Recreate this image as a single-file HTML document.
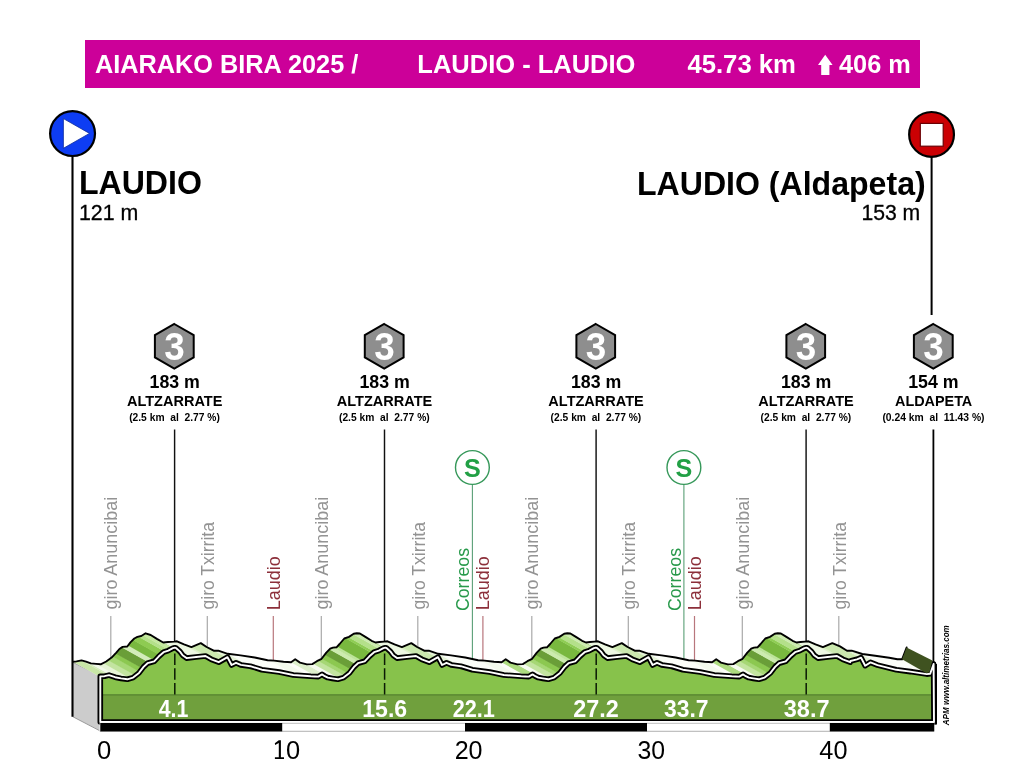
<!DOCTYPE html>
<html><head><meta charset="utf-8"><title>Aiarako Bira 2025</title>
<style>html,body{margin:0;padding:0;background:#fff}svg{display:block;will-change:transform;transform:translateZ(0)}text{font-family:"Liberation Sans",sans-serif}</style></head>
<body>
<svg width="1024" height="784" viewBox="0 0 1024 784">
<rect width="1024" height="784" fill="#fff"/>
<rect x="85" y="40" width="835" height="48" fill="#cc0099"/>
<text transform="translate(94.99 73.20) scale(0.9733 1)" font-size="26.00" font-weight="700" fill="#fff" xml:space="preserve">AIARAKO BIRA 2025 /</text>
<text transform="translate(417.32 73.20) scale(0.9808 1)" font-size="26.00" font-weight="700" fill="#fff" xml:space="preserve">LAUDIO - LAUDIO</text>
<text transform="translate(687.41 73.20) scale(0.9882 1)" font-size="26.00" font-weight="700" fill="#fff" xml:space="preserve">45.73 km</text>
<text transform="translate(839.02 73.20) scale(0.9730 1)" font-size="26.00" font-weight="700" fill="#fff" xml:space="preserve">406 m</text>
<path d="M825.2 54.7 L832.6 65 L829.4 65 L829.4 75 L821.2 75 L821.2 65 L818 65 Z" fill="#fff"/>
<circle cx="72.55" cy="133.55" r="22.45" fill="#0e3df3" stroke="#000" stroke-width="2.2"/>
<path d="M63.4 118.6 L89.5 133.4 L63.4 148.3 Z" fill="#fff" stroke="#0a2a9a" stroke-width="0.8"/>
<line x1="931.6" y1="150" x2="931.6" y2="315" stroke="#000" stroke-width="2"/>
<circle cx="931.55" cy="134.4" r="22.4" fill="#cb0003" stroke="#000" stroke-width="2.2"/>
<rect x="920.3" y="123.4" width="22.9" height="22.8" fill="#fff" stroke="#6a0004" stroke-width="1.2"/>
<text transform="translate(78.88 193.90) scale(0.9910 1)" font-size="32.40" font-weight="700" fill="#000" xml:space="preserve">LAUDIO</text>
<text transform="translate(78.98 220.20) scale(0.9852 1)" font-size="21.70" fill="#000" stroke="#000" stroke-width="0.30" xml:space="preserve">121 m</text>
<text transform="translate(636.98 195.00) scale(0.9846 1)" font-size="32.60" font-weight="700" fill="#000" xml:space="preserve">LAUDIO (Aldapeta)</text>
<text transform="translate(861.39 219.60) scale(0.9765 1)" font-size="21.70" fill="#000" stroke="#000" stroke-width="0.30" xml:space="preserve">153 m</text>
<text transform="translate(117.40 609.55) rotate(-90) scale(0.9862 1)" font-size="18.20" fill="#939393" xml:space="preserve">giro Anuncibai</text>
<line x1="110.8" y1="616.0" x2="110.8" y2="657.7" stroke="#a9a9a9" stroke-width="1.2"/>
<text transform="translate(214.40 609.54) rotate(-90) scale(0.9663 1)" font-size="18.20" fill="#939393" xml:space="preserve">giro Txirrita</text>
<line x1="207.3" y1="616.0" x2="207.3" y2="646.9" stroke="#a9a9a9" stroke-width="1.2"/>
<text transform="translate(327.90 609.55) rotate(-90) scale(0.9862 1)" font-size="18.20" fill="#939393" xml:space="preserve">giro Anuncibai</text>
<line x1="321.3" y1="616.0" x2="321.3" y2="658.5" stroke="#a9a9a9" stroke-width="1.2"/>
<text transform="translate(424.90 609.54) rotate(-90) scale(0.9663 1)" font-size="18.20" fill="#939393" xml:space="preserve">giro Txirrita</text>
<line x1="417.8" y1="616.0" x2="417.8" y2="646.9" stroke="#a9a9a9" stroke-width="1.2"/>
<text transform="translate(538.40 609.55) rotate(-90) scale(0.9862 1)" font-size="18.20" fill="#939393" xml:space="preserve">giro Anuncibai</text>
<line x1="531.8" y1="616.0" x2="531.8" y2="658.5" stroke="#a9a9a9" stroke-width="1.2"/>
<text transform="translate(635.40 609.54) rotate(-90) scale(0.9663 1)" font-size="18.20" fill="#939393" xml:space="preserve">giro Txirrita</text>
<line x1="628.3" y1="616.0" x2="628.3" y2="646.9" stroke="#a9a9a9" stroke-width="1.2"/>
<text transform="translate(748.90 609.55) rotate(-90) scale(0.9862 1)" font-size="18.20" fill="#939393" xml:space="preserve">giro Anuncibai</text>
<line x1="742.3" y1="616.0" x2="742.3" y2="658.5" stroke="#a9a9a9" stroke-width="1.2"/>
<text transform="translate(845.90 609.54) rotate(-90) scale(0.9663 1)" font-size="18.20" fill="#939393" xml:space="preserve">giro Txirrita</text>
<line x1="838.8" y1="616.0" x2="838.8" y2="645.4" stroke="#a9a9a9" stroke-width="1.2"/>
<text transform="translate(279.80 610.17) rotate(-90) scale(0.9863 1)" font-size="18.20" fill="#8c2f3a" xml:space="preserve">Laudio</text>
<line x1="273.3" y1="616.0" x2="273.3" y2="660.1" stroke="#b8767c" stroke-width="1.2"/>
<text transform="translate(489.40 610.17) rotate(-90) scale(0.9863 1)" font-size="18.20" fill="#8c2f3a" xml:space="preserve">Laudio</text>
<line x1="482.9" y1="616.0" x2="482.9" y2="660.0" stroke="#b8767c" stroke-width="1.2"/>
<text transform="translate(701.00 610.17) rotate(-90) scale(0.9863 1)" font-size="18.20" fill="#8c2f3a" xml:space="preserve">Laudio</text>
<line x1="694.5" y1="616.0" x2="694.5" y2="660.1" stroke="#b8767c" stroke-width="1.2"/>
<text transform="translate(469.00 611.09) rotate(-90) scale(0.9751 1)" font-size="18.20" fill="#27994a" xml:space="preserve">Correos</text>
<line x1="472.4" y1="484.5" x2="472.4" y2="658.5" stroke="#5a9f76" stroke-width="1.1"/>
<circle cx="472.4" cy="467.5" r="16.9" fill="#fff" stroke="#36985a" stroke-width="1.4"/>
<text transform="translate(464.10 476.60) scale(0.9497 1)" font-size="26.50" font-weight="700" fill="#22a045" xml:space="preserve">S</text>
<text transform="translate(680.50 611.09) rotate(-90) scale(0.9751 1)" font-size="18.20" fill="#27994a" xml:space="preserve">Correos</text>
<line x1="683.9" y1="484.5" x2="683.9" y2="658.7" stroke="#5a9f76" stroke-width="1.1"/>
<circle cx="683.9" cy="467.5" r="16.9" fill="#fff" stroke="#36985a" stroke-width="1.4"/>
<text transform="translate(675.60 476.60) scale(0.9497 1)" font-size="26.50" font-weight="700" fill="#22a045" xml:space="preserve">S</text>
<polygon points="174.3,324.0 193.7,335.2 193.7,357.4 174.3,368.6 154.9,357.4 154.9,335.2" fill="#8e8e8e" stroke="#000" stroke-width="2" stroke-linejoin="miter"/>
<text transform="translate(164.29 360.00) scale(0.9553 1)" font-size="38.60" font-weight="700" fill="#fff" xml:space="preserve">3</text>
<text transform="translate(149.55 387.90) scale(0.9985 1)" font-size="17.80" font-weight="700" fill="#000" xml:space="preserve">183 m</text>
<text transform="translate(126.90 406.20) scale(1.0162 1)" font-size="14.30" font-weight="700" fill="#000" xml:space="preserve">ALTZARRATE</text>
<text transform="translate(129.15 421.20) scale(0.8707 1)" font-size="11.80" font-weight="700" fill="#000" xml:space="preserve">(2.5 km  al  2.77 %)</text>
<polygon points="384.2,324.0 403.6,335.2 403.6,357.4 384.2,368.6 364.8,357.4 364.8,335.2" fill="#8e8e8e" stroke="#000" stroke-width="2" stroke-linejoin="miter"/>
<text transform="translate(374.14 360.00) scale(0.9553 1)" font-size="38.60" font-weight="700" fill="#fff" xml:space="preserve">3</text>
<text transform="translate(359.40 387.90) scale(0.9985 1)" font-size="17.80" font-weight="700" fill="#000" xml:space="preserve">183 m</text>
<text transform="translate(336.75 406.20) scale(1.0162 1)" font-size="14.30" font-weight="700" fill="#000" xml:space="preserve">ALTZARRATE</text>
<text transform="translate(339.00 421.20) scale(0.8707 1)" font-size="11.80" font-weight="700" fill="#000" xml:space="preserve">(2.5 km  al  2.77 %)</text>
<polygon points="595.8,324.0 615.1,335.2 615.1,357.4 595.8,368.6 576.4,357.4 576.4,335.2" fill="#8e8e8e" stroke="#000" stroke-width="2" stroke-linejoin="miter"/>
<text transform="translate(585.74 360.00) scale(0.9553 1)" font-size="38.60" font-weight="700" fill="#fff" xml:space="preserve">3</text>
<text transform="translate(571.00 387.90) scale(0.9985 1)" font-size="17.80" font-weight="700" fill="#000" xml:space="preserve">183 m</text>
<text transform="translate(548.35 406.20) scale(1.0162 1)" font-size="14.30" font-weight="700" fill="#000" xml:space="preserve">ALTZARRATE</text>
<text transform="translate(550.60 421.20) scale(0.8707 1)" font-size="11.80" font-weight="700" fill="#000" xml:space="preserve">(2.5 km  al  2.77 %)</text>
<polygon points="805.8,324.0 825.1,335.2 825.1,357.4 805.8,368.6 786.4,357.4 786.4,335.2" fill="#8e8e8e" stroke="#000" stroke-width="2" stroke-linejoin="miter"/>
<text transform="translate(795.74 360.00) scale(0.9553 1)" font-size="38.60" font-weight="700" fill="#fff" xml:space="preserve">3</text>
<text transform="translate(781.00 387.90) scale(0.9985 1)" font-size="17.80" font-weight="700" fill="#000" xml:space="preserve">183 m</text>
<text transform="translate(758.35 406.20) scale(1.0162 1)" font-size="14.30" font-weight="700" fill="#000" xml:space="preserve">ALTZARRATE</text>
<text transform="translate(760.60 421.20) scale(0.8707 1)" font-size="11.80" font-weight="700" fill="#000" xml:space="preserve">(2.5 km  al  2.77 %)</text>
<polygon points="933.3,324.0 952.7,335.2 952.7,357.4 933.3,368.6 913.9,357.4 913.9,335.2" fill="#8e8e8e" stroke="#000" stroke-width="2" stroke-linejoin="miter"/>
<text transform="translate(923.29 360.00) scale(0.9553 1)" font-size="38.60" font-weight="700" fill="#fff" xml:space="preserve">3</text>
<text transform="translate(908.20 387.90) scale(0.9985 1)" font-size="17.80" font-weight="700" fill="#000" xml:space="preserve">154 m</text>
<text transform="translate(895.05 406.20) scale(1.0069 1)" font-size="14.30" font-weight="700" fill="#000" xml:space="preserve">ALDAPETA</text>
<text transform="translate(882.39 421.20) scale(0.8763 1)" font-size="11.80" font-weight="700" fill="#000" xml:space="preserve">(0.24 km  al  11.43 %)</text>
<line x1="174.6" y1="429.5" x2="174.6" y2="647.7" stroke="#111" stroke-width="1.45"/>
<line x1="384.5" y1="429.5" x2="384.5" y2="647.9" stroke="#111" stroke-width="1.45"/>
<line x1="596.1" y1="429.5" x2="596.1" y2="647.8" stroke="#111" stroke-width="1.45"/>
<line x1="806.1" y1="429.5" x2="806.1" y2="647.7" stroke="#111" stroke-width="1.45"/>
<line x1="933.4" y1="429.5" x2="933.4" y2="662.5" stroke="#000" stroke-width="1.8"/>
<polygon points="72.6,662.2 99.3,675.4 99.3,730.3 72.6,716.4" fill="#cccccc"/>
<path d="M72.6 662.2 L99.3 675.4 M72.6 716.6 L99.3 730.5" fill="none" stroke="#8f8f8f" stroke-width="0.9"/>
<line x1="72.5" y1="156.5" x2="72.5" y2="716.8" stroke="#000" stroke-width="2.1"/>
<polygon points="73.0,661.8 76.5,661.4 81.5,660.4 86.0,661.6 90.9,663.4 96.0,663.9 100.7,664.3 106.2,661.5 111.6,657.6 116.3,652.6 119.4,649.0 122.6,646.9 127.3,646.5 130.4,642.4 134.3,638.5 137.4,636.9 141.3,636.0 145.6,633.3 150.7,635.0 156.9,638.9 163.2,642.5 168.0,642.0 174.1,641.6 177.0,641.3 184.0,644.4 191.4,647.1 200.8,643.1 206.6,647.0 213.7,650.7 218.3,650.7 227.7,653.8 240.6,655.4 254.7,657.5 267.6,660.2 274.0,660.6 283.5,661.8 287.5,662.0 291.1,662.3 295.2,659.3 300.0,662.6 306.8,664.4 312.3,664.1 316.9,661.2 321.6,658.8 326.3,652.6 330.2,648.7 333.0,647.6 336.5,647.3 339.6,644.0 344.3,638.5 349.0,636.9 353.7,633.8 356.8,633.3 359.9,633.5 365.4,636.9 371.6,640.8 375.5,642.5 379.5,642.0 384.1,641.6 387.5,641.3 394.5,644.4 401.9,647.1 411.3,643.1 417.1,647.0 424.2,650.7 428.8,650.7 438.2,653.8 451.1,655.4 465.2,657.5 478.1,660.2 484.5,660.6 494.0,661.8 498.0,662.0 501.6,662.3 505.7,659.3 510.5,662.6 517.3,664.4 522.8,664.1 527.4,661.2 532.1,658.8 536.8,652.6 540.7,648.7 543.5,647.6 547.0,647.3 550.1,644.0 554.8,638.5 559.5,636.9 564.2,633.8 567.3,633.3 570.4,633.5 575.9,636.9 582.1,640.8 586.0,642.5 590.0,642.0 594.6,641.6 598.0,641.3 605.0,644.4 612.4,647.1 621.8,643.1 627.6,647.0 634.7,650.7 639.3,650.7 648.7,653.8 661.6,655.4 675.7,657.5 688.6,660.2 695.0,660.6 704.5,661.8 708.5,662.0 712.1,662.3 716.2,659.3 721.0,662.6 727.8,664.4 733.3,664.1 737.9,661.2 742.6,658.8 747.3,652.6 751.2,648.7 754.0,647.6 757.5,647.3 760.6,644.0 765.3,638.5 770.0,636.9 774.7,633.8 777.8,633.3 780.9,633.5 786.4,636.9 792.6,640.8 796.5,642.5 800.5,642.0 805.1,641.6 808.5,641.3 815.5,644.4 822.9,647.1 832.3,643.1 840.0,646.4 847.0,650.7 851.7,650.7 862.3,654.0 875.2,655.7 889.2,657.7 897.4,659.3 902.1,659.3 929.4,674.6 924.7,674.6 916.5,673.0 902.5,671.0 889.6,669.3 879.0,666.0 874.3,666.0 867.3,661.7 859.6,658.4 850.2,662.4 842.8,659.7 835.8,656.6 832.4,656.9 827.8,657.3 823.8,657.8 819.9,656.1 813.7,652.2 808.2,648.8 805.1,648.6 802.0,649.1 797.3,652.2 792.6,653.8 787.9,659.3 784.8,662.6 781.3,662.9 778.5,664.0 774.6,667.9 769.9,674.1 765.2,676.5 760.6,679.4 755.1,679.7 748.3,677.9 743.5,674.6 739.4,677.6 735.8,677.3 731.8,677.1 722.3,675.9 715.9,675.5 703.0,672.8 688.9,670.7 676.0,669.1 666.6,666.0 662.0,666.0 654.9,662.3 649.1,658.4 639.7,662.4 632.3,659.7 625.3,656.6 621.9,656.9 617.3,657.3 613.3,657.8 609.4,656.1 603.2,652.2 597.7,648.8 594.6,648.6 591.5,649.1 586.8,652.2 582.1,653.8 577.4,659.3 574.3,662.6 570.8,662.9 568.0,664.0 564.1,667.9 559.4,674.1 554.7,676.5 550.1,679.4 544.6,679.7 537.8,677.9 533.0,674.6 528.9,677.6 525.3,677.3 521.3,677.1 511.8,675.9 505.4,675.5 492.5,672.8 478.4,670.7 465.5,669.1 456.1,666.0 451.5,666.0 444.4,662.3 438.6,658.4 429.2,662.4 421.8,659.7 414.8,656.6 411.4,656.9 406.8,657.3 402.8,657.8 398.9,656.1 392.7,652.2 387.2,648.8 384.1,648.6 381.0,649.1 376.3,652.2 371.6,653.8 366.9,659.3 363.8,662.6 360.3,662.9 357.5,664.0 353.6,667.9 348.9,674.1 344.2,676.5 339.6,679.4 334.1,679.7 327.3,677.9 322.5,674.6 318.4,677.6 314.8,677.3 310.8,677.1 301.3,675.9 294.9,675.5 282.0,672.8 267.9,670.7 255.0,669.1 245.6,666.0 241.0,666.0 233.9,662.3 228.1,658.4 218.7,662.4 211.3,659.7 204.3,656.6 201.4,656.9 195.3,657.3 190.5,657.8 184.2,654.2 178.0,650.3 172.9,648.6 168.6,651.3 164.7,652.2 161.6,653.8 157.7,657.7 154.6,661.8 149.9,662.2 146.7,664.3 143.6,667.9 138.9,672.9 133.5,676.8 128.0,679.6 123.3,679.2 118.2,678.7 113.3,676.9 108.8,675.7 103.8,676.7 100.3,677.1" fill="#fbfdf8"/>
<polygon points="73.0,661.8 76.5,661.4 81.5,660.4 81.8,660.5 109.1,675.8 108.8,675.7 103.8,676.7 100.3,677.1" fill="#c8e6a6"/>
<polygon points="81.5,660.4 86.0,661.6 88.3,662.4 115.6,677.7 113.3,676.9 108.8,675.7" fill="#d6edbc"/>
<polygon points="88.0,662.3 90.9,663.4 96.0,663.9 96.3,663.9 123.6,679.2 123.3,679.2 118.2,678.7 115.3,677.6" fill="#f2f9ea"/>
<polygon points="96.0,663.9 100.7,664.3 103.3,663.0 130.6,678.3 128.0,679.6 123.3,679.2" fill="#e6f4d6"/>
<polygon points="103.0,663.1 106.2,661.5 108.3,660.0 135.6,675.3 133.5,676.8 130.3,678.4" fill="#c3e4a0"/>
<polygon points="108.0,660.2 111.6,657.6 112.8,656.3 140.1,671.6 138.9,672.9 135.3,675.5" fill="#a6d775"/>
<polygon points="112.5,656.6 115.8,653.1 143.1,668.4 139.8,671.9" fill="#8cc850"/>
<polygon points="115.5,653.5 116.3,652.6 119.4,649.0 122.1,647.2 149.4,662.5 146.7,664.3 143.6,667.9 142.8,668.8" fill="#6a9e38"/>
<polygon points="121.8,647.4 122.6,646.9 127.3,646.5 128.3,645.2 155.6,660.5 154.6,661.8 149.9,662.2 149.1,662.7" fill="#d3ecba"/>
<polygon points="128.0,645.6 130.4,642.4 133.0,639.8 160.3,655.1 157.7,657.7 155.3,660.9" fill="#79b83f"/>
<polygon points="132.7,640.1 134.3,638.5 137.4,636.9 138.5,636.6 165.8,651.9 164.7,652.2 161.6,653.8 160.0,655.4" fill="#8ecb52"/>
<polygon points="138.2,636.7 141.3,636.0 142.8,635.1 170.1,650.4 168.6,651.3 165.5,652.0" fill="#b4e08a"/>
<polygon points="142.5,635.2 145.6,633.3 146.8,633.7 174.1,649.0 172.9,648.6 169.8,650.5" fill="#c5e8a0"/>
<polygon points="146.5,633.6 150.7,635.0 156.9,638.9 163.2,642.5 163.8,642.4 191.1,657.7 190.5,657.8 184.2,654.2 178.0,650.3 173.8,648.9" fill="#a3d672"/>
<polygon points="163.5,642.5 168.0,642.0 174.1,641.6 177.0,641.3 179.3,642.3 206.6,657.6 204.3,656.6 201.4,656.9 195.3,657.3 190.8,657.8" fill="#edf7e2"/>
<polygon points="179.0,642.2 184.0,644.4 190.6,646.8 217.9,662.1 211.3,659.7 206.3,657.5" fill="#ddf0c8"/>
<polygon points="190.3,646.7 191.4,647.1 200.8,643.1 201.1,643.3 228.4,658.6 228.1,658.4 218.7,662.4 217.6,662.0" fill="#cbe8ae"/>
<polygon points="200.8,643.1 206.6,647.0 213.7,650.7 214.0,650.7 241.3,666.0 241.0,666.0 233.9,662.3 228.1,658.4" fill="#c2e3a0"/>
<polygon points="213.7,650.7 218.3,650.7 227.7,653.8 228.0,653.8 255.3,669.1 255.0,669.1 245.6,666.0 241.0,666.0" fill="#e4f2d6"/>
<polygon points="227.7,653.8 240.6,655.4 254.7,657.5 267.6,660.2 269.3,660.3 296.6,675.6 294.9,675.5 282.0,672.8 267.9,670.7 255.0,669.1" fill="#fbfdf8"/>
<polygon points="269.0,660.3 274.0,660.6 283.5,661.8 283.8,661.8 311.1,677.1 310.8,677.1 301.3,675.9 296.3,675.6" fill="#f3f9ec"/>
<polygon points="283.5,661.8 287.5,662.0 291.1,662.3 291.2,662.2 318.5,677.5 318.4,677.6 314.8,677.3 310.8,677.1" fill="#fbfdf8"/>
<polygon points="290.9,662.3 291.1,662.3 295.2,659.3 300.0,662.6 306.3,664.3 333.6,679.6 327.3,677.9 322.5,674.6 318.4,677.6 318.2,677.6" fill="#ddefcb"/>
<polygon points="306.0,664.2 306.8,664.4 312.3,664.1 313.3,663.5 340.6,678.8 339.6,679.4 334.1,679.7 333.3,679.5" fill="#f6fbf0"/>
<polygon points="313.0,663.7 316.9,661.2 318.0,660.6 345.3,675.9 344.2,676.5 340.3,679.0" fill="#c3e4a0"/>
<polygon points="317.7,660.8 321.6,658.8 321.9,658.4 349.2,673.7 348.9,674.1 345.0,676.1" fill="#a6d775"/>
<polygon points="321.6,658.8 325.0,654.3 352.3,669.6 348.9,674.1" fill="#8cc850"/>
<polygon points="324.7,654.7 326.3,652.6 329.7,649.2 357.0,664.5 353.6,667.9 352.0,670.0" fill="#6a9e38"/>
<polygon points="329.4,649.5 330.2,648.7 333.0,647.6 333.8,647.5 361.1,662.8 360.3,662.9 357.5,664.0 356.7,664.8" fill="#cdebb0"/>
<polygon points="333.5,647.6 336.5,647.3 337.5,646.2 364.8,661.5 363.8,662.6 360.8,662.9" fill="#bde49a"/>
<polygon points="337.2,646.6 339.6,644.0 344.3,638.5 345.4,638.1 372.7,653.4 371.6,653.8 366.9,659.3 364.5,661.9" fill="#79b83f"/>
<polygon points="345.1,638.2 348.5,637.1 375.8,652.4 372.4,653.5" fill="#8fcd55"/>
<polygon points="348.2,637.2 349.0,636.9 353.2,634.1 380.5,649.4 376.3,652.2 375.5,652.5" fill="#b4e08a"/>
<polygon points="352.9,634.3 353.7,633.8 356.8,633.3 357.3,633.3 384.6,648.6 384.1,648.6 381.0,649.1 380.2,649.6" fill="#cdebb0"/>
<polygon points="357.0,633.3 359.9,633.5 365.4,636.9 371.6,640.8 374.3,642.0 401.6,657.3 398.9,656.1 392.7,652.2 387.2,648.8 384.3,648.6" fill="#a3d672"/>
<polygon points="374.0,641.8 375.5,642.5 379.5,642.0 384.1,641.6 387.5,641.3 389.8,642.3 417.1,657.6 414.8,656.6 411.4,656.9 406.8,657.3 402.8,657.8 401.3,657.1" fill="#edf7e2"/>
<polygon points="389.5,642.2 394.5,644.4 401.1,646.8 428.4,662.1 421.8,659.7 416.8,657.5" fill="#ddf0c8"/>
<polygon points="400.8,646.7 401.9,647.1 411.3,643.1 411.6,643.3 438.9,658.6 438.6,658.4 429.2,662.4 428.1,662.0" fill="#cbe8ae"/>
<polygon points="411.3,643.1 417.1,647.0 424.2,650.7 424.5,650.7 451.8,666.0 451.5,666.0 444.4,662.3 438.6,658.4" fill="#c2e3a0"/>
<polygon points="424.2,650.7 428.8,650.7 438.2,653.8 438.5,653.8 465.8,669.1 465.5,669.1 456.1,666.0 451.5,666.0" fill="#e4f2d6"/>
<polygon points="438.2,653.8 451.1,655.4 465.2,657.5 478.1,660.2 479.8,660.3 507.1,675.6 505.4,675.5 492.5,672.8 478.4,670.7 465.5,669.1" fill="#fbfdf8"/>
<polygon points="479.5,660.3 484.5,660.6 494.0,661.8 494.3,661.8 521.6,677.1 521.3,677.1 511.8,675.9 506.8,675.6" fill="#f3f9ec"/>
<polygon points="494.0,661.8 498.0,662.0 501.6,662.3 501.7,662.2 529.0,677.5 528.9,677.6 525.3,677.3 521.3,677.1" fill="#fbfdf8"/>
<polygon points="501.4,662.3 501.6,662.3 505.7,659.3 510.5,662.6 516.8,664.3 544.1,679.6 537.8,677.9 533.0,674.6 528.9,677.6 528.7,677.6" fill="#addb80"/>
<polygon points="516.5,664.2 517.3,664.4 522.8,664.1 523.8,663.5 551.1,678.8 550.1,679.4 544.6,679.7 543.8,679.5" fill="#f6fbf0"/>
<polygon points="523.5,663.7 527.4,661.2 528.5,660.6 555.8,675.9 554.7,676.5 550.8,679.0" fill="#c3e4a0"/>
<polygon points="528.2,660.8 532.1,658.8 532.4,658.4 559.7,673.7 559.4,674.1 555.5,676.1" fill="#a6d775"/>
<polygon points="532.1,658.8 535.5,654.3 562.8,669.6 559.4,674.1" fill="#8cc850"/>
<polygon points="535.2,654.7 536.8,652.6 540.2,649.2 567.5,664.5 564.1,667.9 562.5,670.0" fill="#6a9e38"/>
<polygon points="539.9,649.5 540.7,648.7 543.5,647.6 544.3,647.5 571.6,662.8 570.8,662.9 568.0,664.0 567.2,664.8" fill="#cdebb0"/>
<polygon points="544.0,647.6 547.0,647.3 548.0,646.2 575.3,661.5 574.3,662.6 571.3,662.9" fill="#bde49a"/>
<polygon points="547.7,646.6 550.1,644.0 554.8,638.5 555.9,638.1 583.2,653.4 582.1,653.8 577.4,659.3 575.0,661.9" fill="#79b83f"/>
<polygon points="555.6,638.2 559.0,637.1 586.3,652.4 582.9,653.5" fill="#8fcd55"/>
<polygon points="558.7,637.2 559.5,636.9 563.7,634.1 591.0,649.4 586.8,652.2 586.0,652.5" fill="#b4e08a"/>
<polygon points="563.4,634.3 564.2,633.8 567.3,633.3 567.8,633.3 595.1,648.6 594.6,648.6 591.5,649.1 590.7,649.6" fill="#cdebb0"/>
<polygon points="567.5,633.3 570.4,633.5 575.9,636.9 582.1,640.8 584.8,642.0 612.1,657.3 609.4,656.1 603.2,652.2 597.7,648.8 594.8,648.6" fill="#a3d672"/>
<polygon points="584.5,641.8 586.0,642.5 590.0,642.0 594.6,641.6 598.0,641.3 600.3,642.3 627.6,657.6 625.3,656.6 621.9,656.9 617.3,657.3 613.3,657.8 611.8,657.1" fill="#edf7e2"/>
<polygon points="600.0,642.2 605.0,644.4 611.6,646.8 638.9,662.1 632.3,659.7 627.3,657.5" fill="#ddf0c8"/>
<polygon points="611.3,646.7 612.4,647.1 621.8,643.1 622.1,643.3 649.4,658.6 649.1,658.4 639.7,662.4 638.6,662.0" fill="#cbe8ae"/>
<polygon points="621.8,643.1 627.6,647.0 634.7,650.7 635.0,650.7 662.3,666.0 662.0,666.0 654.9,662.3 649.1,658.4" fill="#c2e3a0"/>
<polygon points="634.7,650.7 639.3,650.7 648.7,653.8 649.0,653.8 676.3,669.1 676.0,669.1 666.6,666.0 662.0,666.0" fill="#e4f2d6"/>
<polygon points="648.7,653.8 661.6,655.4 675.7,657.5 688.6,660.2 690.3,660.3 717.6,675.6 715.9,675.5 703.0,672.8 688.9,670.7 676.0,669.1" fill="#fbfdf8"/>
<polygon points="690.0,660.3 695.0,660.6 704.5,661.8 704.8,661.8 732.1,677.1 731.8,677.1 722.3,675.9 717.3,675.6" fill="#f3f9ec"/>
<polygon points="704.5,661.8 708.5,662.0 712.1,662.3 712.2,662.2 739.5,677.5 739.4,677.6 735.8,677.3 731.8,677.1" fill="#fbfdf8"/>
<polygon points="711.9,662.3 712.1,662.3 716.2,659.3 721.0,662.6 727.3,664.3 754.6,679.6 748.3,677.9 743.5,674.6 739.4,677.6 739.2,677.6" fill="#addb80"/>
<polygon points="727.0,664.2 727.8,664.4 733.3,664.1 734.3,663.5 761.6,678.8 760.6,679.4 755.1,679.7 754.3,679.5" fill="#f6fbf0"/>
<polygon points="734.0,663.7 737.9,661.2 739.0,660.6 766.3,675.9 765.2,676.5 761.3,679.0" fill="#c3e4a0"/>
<polygon points="738.7,660.8 742.6,658.8 742.9,658.4 770.2,673.7 769.9,674.1 766.0,676.1" fill="#a6d775"/>
<polygon points="742.6,658.8 746.0,654.3 773.3,669.6 769.9,674.1" fill="#8cc850"/>
<polygon points="745.7,654.7 747.3,652.6 750.7,649.2 778.0,664.5 774.6,667.9 773.0,670.0" fill="#6a9e38"/>
<polygon points="750.4,649.5 751.2,648.7 754.0,647.6 754.8,647.5 782.1,662.8 781.3,662.9 778.5,664.0 777.7,664.8" fill="#cdebb0"/>
<polygon points="754.5,647.6 757.5,647.3 758.5,646.2 785.8,661.5 784.8,662.6 781.8,662.9" fill="#bde49a"/>
<polygon points="758.2,646.6 760.6,644.0 765.3,638.5 766.4,638.1 793.7,653.4 792.6,653.8 787.9,659.3 785.5,661.9" fill="#79b83f"/>
<polygon points="766.1,638.2 769.5,637.1 796.8,652.4 793.4,653.5" fill="#8fcd55"/>
<polygon points="769.2,637.2 770.0,636.9 774.2,634.1 801.5,649.4 797.3,652.2 796.5,652.5" fill="#b4e08a"/>
<polygon points="773.9,634.3 774.7,633.8 777.8,633.3 778.3,633.3 805.6,648.6 805.1,648.6 802.0,649.1 801.2,649.6" fill="#cdebb0"/>
<polygon points="778.0,633.3 780.9,633.5 786.4,636.9 792.6,640.8 795.3,642.0 822.6,657.3 819.9,656.1 813.7,652.2 808.2,648.8 805.3,648.6" fill="#a3d672"/>
<polygon points="795.0,641.8 796.5,642.5 800.5,642.0 805.1,641.6 808.5,641.3 810.8,642.3 838.1,657.6 835.8,656.6 832.4,656.9 827.8,657.3 823.8,657.8 822.3,657.1" fill="#edf7e2"/>
<polygon points="810.5,642.2 815.5,644.4 822.1,646.8 849.4,662.1 842.8,659.7 837.8,657.5" fill="#ddf0c8"/>
<polygon points="821.8,646.7 822.9,647.1 832.3,643.1 832.6,643.2 859.9,658.5 859.6,658.4 850.2,662.4 849.1,662.0" fill="#cbe8ae"/>
<polygon points="832.3,643.1 840.0,646.4 845.5,649.8 872.8,665.1 867.3,661.7 859.6,658.4" fill="#c2e3a0"/>
<polygon points="845.2,649.6 847.0,650.7 851.7,650.7 859.5,653.1 886.8,668.4 879.0,666.0 874.3,666.0 872.5,664.9" fill="#e4f2d6"/>
<polygon points="859.2,653.0 862.3,654.0 875.2,655.7 889.2,657.7 897.4,659.3 900.8,659.3 928.1,674.6 924.7,674.6 916.5,673.0 902.5,671.0 889.6,669.3 886.5,668.3" fill="#fbfdf8"/>
<polygon points="900.5,659.3 902.1,659.3 902.4,658.5 929.7,673.8 929.4,674.6 927.8,674.6" fill="#f3f9ec"/>
<polyline points="73.0,661.8 76.5,661.4 81.5,660.4 86.0,661.6 90.9,663.4 96.0,663.9 100.7,664.3 106.2,661.5 111.6,657.6 116.3,652.6 119.4,649.0 122.6,646.9 127.3,646.5 130.4,642.4 134.3,638.5 137.4,636.9 141.3,636.0 145.6,633.3 150.7,635.0 156.9,638.9 163.2,642.5 168.0,642.0 174.1,641.6 177.0,641.3 184.0,644.4 191.4,647.1 200.8,643.1 206.6,647.0 213.7,650.7 218.3,650.7 227.7,653.8 240.6,655.4 254.7,657.5 267.6,660.2 274.0,660.6 283.5,661.8 287.5,662.0 291.1,662.3 295.2,659.3 300.0,662.6 306.8,664.4 312.3,664.1 316.9,661.2 321.6,658.8 326.3,652.6 330.2,648.7 333.0,647.6 336.5,647.3 339.6,644.0 344.3,638.5 349.0,636.9 353.7,633.8 356.8,633.3 359.9,633.5 365.4,636.9 371.6,640.8 375.5,642.5 379.5,642.0 384.1,641.6 387.5,641.3 394.5,644.4 401.9,647.1 411.3,643.1 417.1,647.0 424.2,650.7 428.8,650.7 438.2,653.8 451.1,655.4 465.2,657.5 478.1,660.2 484.5,660.6 494.0,661.8 498.0,662.0 501.6,662.3 505.7,659.3 510.5,662.6 517.3,664.4 522.8,664.1 527.4,661.2 532.1,658.8 536.8,652.6 540.7,648.7 543.5,647.6 547.0,647.3 550.1,644.0 554.8,638.5 559.5,636.9 564.2,633.8 567.3,633.3 570.4,633.5 575.9,636.9 582.1,640.8 586.0,642.5 590.0,642.0 594.6,641.6 598.0,641.3 605.0,644.4 612.4,647.1 621.8,643.1 627.6,647.0 634.7,650.7 639.3,650.7 648.7,653.8 661.6,655.4 675.7,657.5 688.6,660.2 695.0,660.6 704.5,661.8 708.5,662.0 712.1,662.3 716.2,659.3 721.0,662.6 727.8,664.4 733.3,664.1 737.9,661.2 742.6,658.8 747.3,652.6 751.2,648.7 754.0,647.6 757.5,647.3 760.6,644.0 765.3,638.5 770.0,636.9 774.7,633.8 777.8,633.3 780.9,633.5 786.4,636.9 792.6,640.8 796.5,642.5 800.5,642.0 805.1,641.6 808.5,641.3 815.5,644.4 822.9,647.1 832.3,643.1 840.0,646.4 847.0,650.7 851.7,650.7 862.3,654.0 875.2,655.7 889.2,657.7 897.4,659.3 902.1,659.3 906.6,647.5" fill="none" stroke="#000" stroke-width="1.9" stroke-linejoin="round" stroke-linecap="round"/>
<clipPath id="fc"><polygon points="100.3,722.0 100.3,676.4 104.5,676.2 109.0,675.1 115.1,677.2 121.0,678.4 127.3,679.3 133.1,677.6 139.0,672.9 143.6,666.9 147.5,663.2 154.2,661.3 158.9,656.3 163.6,652.2 168.3,650.6 172.9,648.2 174.8,647.7 176.3,648.2 180.0,651.6 182.6,655.2 186.5,658.1 196.1,657.0 205.5,656.0 211.3,659.3 218.7,662.2 227.5,657.2 231.6,665.0 236.0,662.8 240.8,664.9 250.3,666.2 261.8,669.7 279.3,672.1 293.3,675.0 310.8,676.3 314.8,676.5 318.3,676.6 322.0,674.4 324.8,676.2 327.8,677.6 332.3,678.4 337.8,679.3 343.6,677.6 349.5,672.9 354.1,666.9 358.0,663.2 364.7,661.3 369.4,656.3 374.1,652.2 378.8,650.6 383.4,648.2 385.3,647.7 386.8,648.2 390.5,651.6 393.1,655.2 397.0,658.1 406.6,657.0 416.0,656.0 421.8,659.3 429.2,662.2 438.0,657.2 442.1,665.0 446.5,662.8 451.3,664.9 460.8,666.2 472.3,669.7 489.8,672.1 503.8,675.0 521.3,676.3 525.3,676.5 528.8,676.6 532.5,674.4 535.3,676.2 538.3,677.6 542.8,678.4 548.3,679.3 554.1,677.6 560.0,672.9 564.6,666.9 568.5,663.2 575.2,661.3 579.9,656.3 584.6,652.2 589.3,650.6 593.9,648.2 595.8,647.7 597.3,648.2 601.0,651.6 603.6,655.2 607.5,658.1 617.1,657.0 626.5,656.0 632.3,659.3 639.7,662.2 648.5,657.2 652.6,665.0 657.0,662.8 661.8,664.9 671.3,666.2 682.8,669.7 700.3,672.1 714.3,675.0 731.8,676.3 735.8,676.5 739.3,676.6 743.0,674.4 745.8,676.2 748.8,677.6 753.3,678.4 758.8,679.3 764.6,677.6 770.5,672.9 775.1,666.9 779.0,663.2 785.7,661.3 790.4,656.3 795.1,652.2 799.8,650.6 804.4,648.2 806.3,647.7 807.8,648.2 811.5,651.6 814.1,655.2 818.0,658.1 827.6,657.0 837.0,656.0 842.8,659.3 850.2,662.2 850.5,661.0 857.0,659.3 861.1,657.7 865.2,665.7 870.5,662.4 877.5,665.1 896.3,669.8 910.3,671.6 926.7,674.1 930.2,673.7 933.6,664.0 934.0,722.0"/></clipPath>
<polygon points="100.3,722.0 100.3,676.4 104.5,676.2 109.0,675.1 115.1,677.2 121.0,678.4 127.3,679.3 133.1,677.6 139.0,672.9 143.6,666.9 147.5,663.2 154.2,661.3 158.9,656.3 163.6,652.2 168.3,650.6 172.9,648.2 174.8,647.7 176.3,648.2 180.0,651.6 182.6,655.2 186.5,658.1 196.1,657.0 205.5,656.0 211.3,659.3 218.7,662.2 227.5,657.2 231.6,665.0 236.0,662.8 240.8,664.9 250.3,666.2 261.8,669.7 279.3,672.1 293.3,675.0 310.8,676.3 314.8,676.5 318.3,676.6 322.0,674.4 324.8,676.2 327.8,677.6 332.3,678.4 337.8,679.3 343.6,677.6 349.5,672.9 354.1,666.9 358.0,663.2 364.7,661.3 369.4,656.3 374.1,652.2 378.8,650.6 383.4,648.2 385.3,647.7 386.8,648.2 390.5,651.6 393.1,655.2 397.0,658.1 406.6,657.0 416.0,656.0 421.8,659.3 429.2,662.2 438.0,657.2 442.1,665.0 446.5,662.8 451.3,664.9 460.8,666.2 472.3,669.7 489.8,672.1 503.8,675.0 521.3,676.3 525.3,676.5 528.8,676.6 532.5,674.4 535.3,676.2 538.3,677.6 542.8,678.4 548.3,679.3 554.1,677.6 560.0,672.9 564.6,666.9 568.5,663.2 575.2,661.3 579.9,656.3 584.6,652.2 589.3,650.6 593.9,648.2 595.8,647.7 597.3,648.2 601.0,651.6 603.6,655.2 607.5,658.1 617.1,657.0 626.5,656.0 632.3,659.3 639.7,662.2 648.5,657.2 652.6,665.0 657.0,662.8 661.8,664.9 671.3,666.2 682.8,669.7 700.3,672.1 714.3,675.0 731.8,676.3 735.8,676.5 739.3,676.6 743.0,674.4 745.8,676.2 748.8,677.6 753.3,678.4 758.8,679.3 764.6,677.6 770.5,672.9 775.1,666.9 779.0,663.2 785.7,661.3 790.4,656.3 795.1,652.2 799.8,650.6 804.4,648.2 806.3,647.7 807.8,648.2 811.5,651.6 814.1,655.2 818.0,658.1 827.6,657.0 837.0,656.0 842.8,659.3 850.2,662.2 850.5,661.0 857.0,659.3 861.1,657.7 865.2,665.7 870.5,662.4 877.5,665.1 896.3,669.8 910.3,671.6 926.7,674.1 930.2,673.7 933.6,664.0 934.0,722.0" fill="#87c24b"/>
<rect x="95" y="694.8" width="845" height="30" fill="#70a03d" clip-path="url(#fc)"/>
<line x1="100" y1="694.8" x2="934" y2="694.8" stroke="#55822f" stroke-width="1.3"/>
<line x1="174.8" y1="694.4" x2="174.8" y2="649.7" stroke="#0b1a05" stroke-width="1.5" stroke-dasharray="11.4 3.3"/>
<line x1="384.6" y1="694.4" x2="384.6" y2="649.9" stroke="#0b1a05" stroke-width="1.5" stroke-dasharray="11.4 3.3"/>
<line x1="596.2" y1="694.4" x2="596.2" y2="649.8" stroke="#0b1a05" stroke-width="1.5" stroke-dasharray="11.4 3.3"/>
<line x1="806.2" y1="694.4" x2="806.2" y2="649.7" stroke="#0b1a05" stroke-width="1.5" stroke-dasharray="11.4 3.3"/>
<polygon points="100.3,722.0 100.3,676.4 104.5,676.2 109.0,675.1 115.1,677.2 121.0,678.4 127.3,679.3 133.1,677.6 139.0,672.9 143.6,666.9 147.5,663.2 154.2,661.3 158.9,656.3 163.6,652.2 168.3,650.6 172.9,648.2 174.8,647.7 176.3,648.2 180.0,651.6 182.6,655.2 186.5,658.1 196.1,657.0 205.5,656.0 211.3,659.3 218.7,662.2 227.5,657.2 231.6,665.0 236.0,662.8 240.8,664.9 250.3,666.2 261.8,669.7 279.3,672.1 293.3,675.0 310.8,676.3 314.8,676.5 318.3,676.6 322.0,674.4 324.8,676.2 327.8,677.6 332.3,678.4 337.8,679.3 343.6,677.6 349.5,672.9 354.1,666.9 358.0,663.2 364.7,661.3 369.4,656.3 374.1,652.2 378.8,650.6 383.4,648.2 385.3,647.7 386.8,648.2 390.5,651.6 393.1,655.2 397.0,658.1 406.6,657.0 416.0,656.0 421.8,659.3 429.2,662.2 438.0,657.2 442.1,665.0 446.5,662.8 451.3,664.9 460.8,666.2 472.3,669.7 489.8,672.1 503.8,675.0 521.3,676.3 525.3,676.5 528.8,676.6 532.5,674.4 535.3,676.2 538.3,677.6 542.8,678.4 548.3,679.3 554.1,677.6 560.0,672.9 564.6,666.9 568.5,663.2 575.2,661.3 579.9,656.3 584.6,652.2 589.3,650.6 593.9,648.2 595.8,647.7 597.3,648.2 601.0,651.6 603.6,655.2 607.5,658.1 617.1,657.0 626.5,656.0 632.3,659.3 639.7,662.2 648.5,657.2 652.6,665.0 657.0,662.8 661.8,664.9 671.3,666.2 682.8,669.7 700.3,672.1 714.3,675.0 731.8,676.3 735.8,676.5 739.3,676.6 743.0,674.4 745.8,676.2 748.8,677.6 753.3,678.4 758.8,679.3 764.6,677.6 770.5,672.9 775.1,666.9 779.0,663.2 785.7,661.3 790.4,656.3 795.1,652.2 799.8,650.6 804.4,648.2 806.3,647.7 807.8,648.2 811.5,651.6 814.1,655.2 818.0,658.1 827.6,657.0 837.0,656.0 842.8,659.3 850.2,662.2 850.5,661.0 857.0,659.3 861.1,657.7 865.2,665.7 870.5,662.4 877.5,665.1 896.3,669.8 910.3,671.6 926.7,674.1 930.2,673.7 933.6,664.0 934.0,722.0" fill="none" stroke="#000" stroke-width="5.6" stroke-linejoin="round"/>
<line x1="936" y1="664" x2="936" y2="724.5" stroke="#000" stroke-width="2"/>
<polygon points="902.1,659.3 906.6,647.5 932.4,660.6 929.4,672.6 926,672.9" fill="#3f5220"/>
<polygon points="100.3,722.0 100.3,676.4 104.5,676.2 109.0,675.1 115.1,677.2 121.0,678.4 127.3,679.3 133.1,677.6 139.0,672.9 143.6,666.9 147.5,663.2 154.2,661.3 158.9,656.3 163.6,652.2 168.3,650.6 172.9,648.2 174.8,647.7 176.3,648.2 180.0,651.6 182.6,655.2 186.5,658.1 196.1,657.0 205.5,656.0 211.3,659.3 218.7,662.2 227.5,657.2 231.6,665.0 236.0,662.8 240.8,664.9 250.3,666.2 261.8,669.7 279.3,672.1 293.3,675.0 310.8,676.3 314.8,676.5 318.3,676.6 322.0,674.4 324.8,676.2 327.8,677.6 332.3,678.4 337.8,679.3 343.6,677.6 349.5,672.9 354.1,666.9 358.0,663.2 364.7,661.3 369.4,656.3 374.1,652.2 378.8,650.6 383.4,648.2 385.3,647.7 386.8,648.2 390.5,651.6 393.1,655.2 397.0,658.1 406.6,657.0 416.0,656.0 421.8,659.3 429.2,662.2 438.0,657.2 442.1,665.0 446.5,662.8 451.3,664.9 460.8,666.2 472.3,669.7 489.8,672.1 503.8,675.0 521.3,676.3 525.3,676.5 528.8,676.6 532.5,674.4 535.3,676.2 538.3,677.6 542.8,678.4 548.3,679.3 554.1,677.6 560.0,672.9 564.6,666.9 568.5,663.2 575.2,661.3 579.9,656.3 584.6,652.2 589.3,650.6 593.9,648.2 595.8,647.7 597.3,648.2 601.0,651.6 603.6,655.2 607.5,658.1 617.1,657.0 626.5,656.0 632.3,659.3 639.7,662.2 648.5,657.2 652.6,665.0 657.0,662.8 661.8,664.9 671.3,666.2 682.8,669.7 700.3,672.1 714.3,675.0 731.8,676.3 735.8,676.5 739.3,676.6 743.0,674.4 745.8,676.2 748.8,677.6 753.3,678.4 758.8,679.3 764.6,677.6 770.5,672.9 775.1,666.9 779.0,663.2 785.7,661.3 790.4,656.3 795.1,652.2 799.8,650.6 804.4,648.2 806.3,647.7 807.8,648.2 811.5,651.6 814.1,655.2 818.0,658.1 827.6,657.0 837.0,656.0 842.8,659.3 850.2,662.2 850.5,661.0 857.0,659.3 861.1,657.7 865.2,665.7 870.5,662.4 877.5,665.1 896.3,669.8 910.3,671.6 926.7,674.1 930.2,673.7 933.6,664.0 934.0,722.0" fill="none" stroke="#fff" stroke-width="1.9" stroke-linejoin="round"/>
<text transform="translate(158.68 716.80) scale(0.9209 1)" font-size="23.20" font-weight="700" fill="#fff" xml:space="preserve">4.1</text>
<text transform="translate(362.27 716.80) scale(0.9954 1)" font-size="23.20" font-weight="700" fill="#fff" xml:space="preserve">15.6</text>
<text transform="translate(452.66 716.80) scale(0.9352 1)" font-size="23.20" font-weight="700" fill="#fff" xml:space="preserve">22.1</text>
<text transform="translate(573.20 716.80) scale(1.0080 1)" font-size="23.20" font-weight="700" fill="#fff" xml:space="preserve">27.2</text>
<text transform="translate(664.00 716.80) scale(0.9876 1)" font-size="23.20" font-weight="700" fill="#fff" xml:space="preserve">33.7</text>
<text transform="translate(783.78 716.80) scale(1.0129 1)" font-size="23.20" font-weight="700" fill="#fff" xml:space="preserve">38.7</text>
<rect x="100" y="723.2" width="834" height="8" fill="#fff" stroke="#c8c8c8" stroke-width="0.8"/>
<line x1="100" y1="731.4" x2="934" y2="731.4" stroke="#bdbdbd" stroke-width="1"/>
<rect x="100.3" y="723" width="181.9" height="8.4" fill="#000"/>
<rect x="465.0" y="723" width="182.0" height="8.4" fill="#000"/>
<rect x="829.8" y="723" width="104.4" height="8.4" fill="#000"/>
<text transform="translate(96.90 758.70) scale(0.9876 1)" font-size="26.00" fill="#000" xml:space="preserve">0</text>
<text transform="translate(285.91 758.70) scale(0.9796 1)" font-size="26.00" fill="#000" xml:space="preserve">0</text>
<text transform="translate(454.65 758.70) scale(0.9653 1)" font-size="26.00" fill="#000" xml:space="preserve">20</text>
<text transform="translate(637.46 758.70) scale(0.9541 1)" font-size="26.00" fill="#000" xml:space="preserve">30</text>
<text transform="translate(819.34 758.70) scale(0.9725 1)" font-size="26.00" fill="#000" xml:space="preserve">40</text>
<path d="M278.8 740.2 L280.9 740.2 L280.9 757.2 L284 757.2 L284 758.9 L274.9 758.9 L274.9 757.2 L278.8 757.2 L278.8 742.9 L275.2 745 L274.8 743.3 Z" fill="#000"/>
<text transform="translate(949.20 725.23) rotate(-90) scale(0.9276 1)" font-size="8.70" font-weight="700" font-style="italic" fill="#000" xml:space="preserve">APM www.altimetrias.com</text>
</svg>
</body></html>
